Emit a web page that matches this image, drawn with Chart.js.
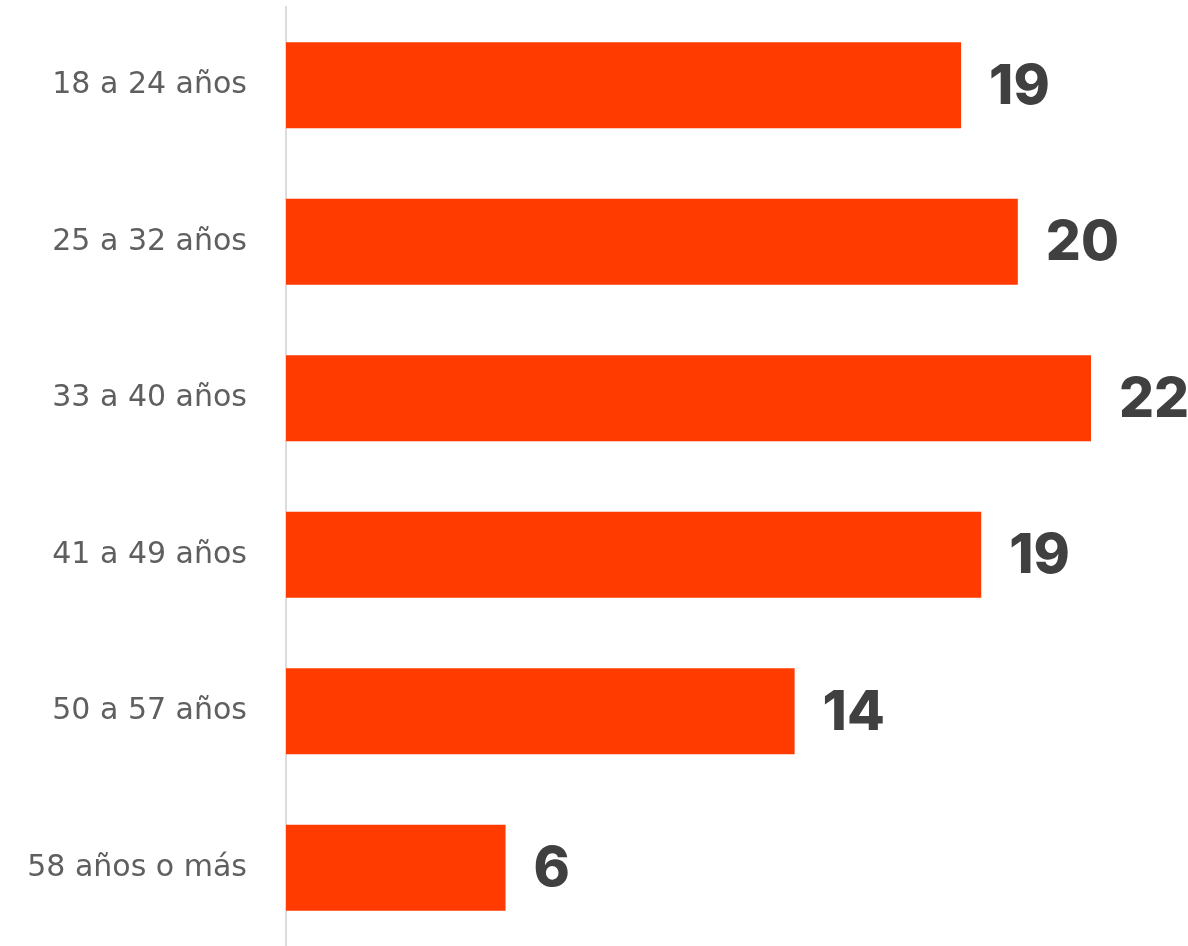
<!DOCTYPE html>
<html lang="es">
<head>
    <meta charset="UTF-8">
    <title>Edades</title>
    <script src="https://cdn.jsdelivr.net/npm/chart.js"></script>
    <style>
        html, body { margin: 0; padding: 0; background: #fff; }
        .grafico { width: 1188px; height: 946px; }
    </style>
</head>
<body>
    <div class="grafico">
        <canvas id="graficoBarra"></canvas>
    </div>

<script>
    // datos
    const categorias = ['18 a 24 años', '25 a 32 años', '33 a 40 años', '41 a 49 años', '50 a 57 años', '58 años o más'];
    const valores = [18.45, 20, 22, 19, 13.9, 6];
    const etiquetas = ['19', '20', '22', '19', '14', '6'];

    // etiquetas de valor al final de cada barra
    const etiquetasPlugin = {
        id: 'etiquetas',
        afterDatasetsDraw(chart) {
            const ctx = chart.ctx;
            const meta = chart.getDatasetMeta(0);
            ctx.save();
            ctx.fillStyle = '#404040';
            ctx.font = '800 55px Inter, "Open Sans", sans-serif';
            ctx.textAlign = 'left';
            ctx.textBaseline = 'middle';
            meta.data.forEach(function (bar, i) {
                ctx.fillText(etiquetas[i], bar.x + 28, bar.y + 2);
            });
            ctx.restore();
        }
    };

    const ctx = document.getElementById('graficoBarra');
    new Chart(ctx, {
        type: 'bar',
        data: {
            labels: categorias,
            datasets: [{
                data: valores,
                backgroundColor: '#FF3B00',
                borderWidth: 0,
                categoryPercentage: 1,
                barPercentage: 0.55
            }]
        },
        options: {
            indexAxis: 'y',
            responsive: true,
            maintainAspectRatio: false,
            animation: false,
            layout: { padding: { top: 7, bottom: 0, left: 0, right: 97 } },
            plugins: {
                legend: { display: false },
                tooltip: { enabled: false }
            },
            scales: {
                x: {
                    min: 0,
                    max: 22,
                    display: false
                },
                y: {
                    afterFit: function (scale) {
                        scale.width = 286;
                        scale.paddingTop = 0;
                        scale.paddingBottom = 0;
                    },
                    grid: { display: false },
                    border: { display: true, color: '#dcdcdc', width: 2 },
                    ticks: {
                        color: '#5f5f5f',
                        padding: 31,
                        font: { family: '"DejaVu Sans", sans-serif', size: 30 }
                    }
                }
            }
        },
        plugins: [etiquetasPlugin]
    });
</script>
</body>
</html>
